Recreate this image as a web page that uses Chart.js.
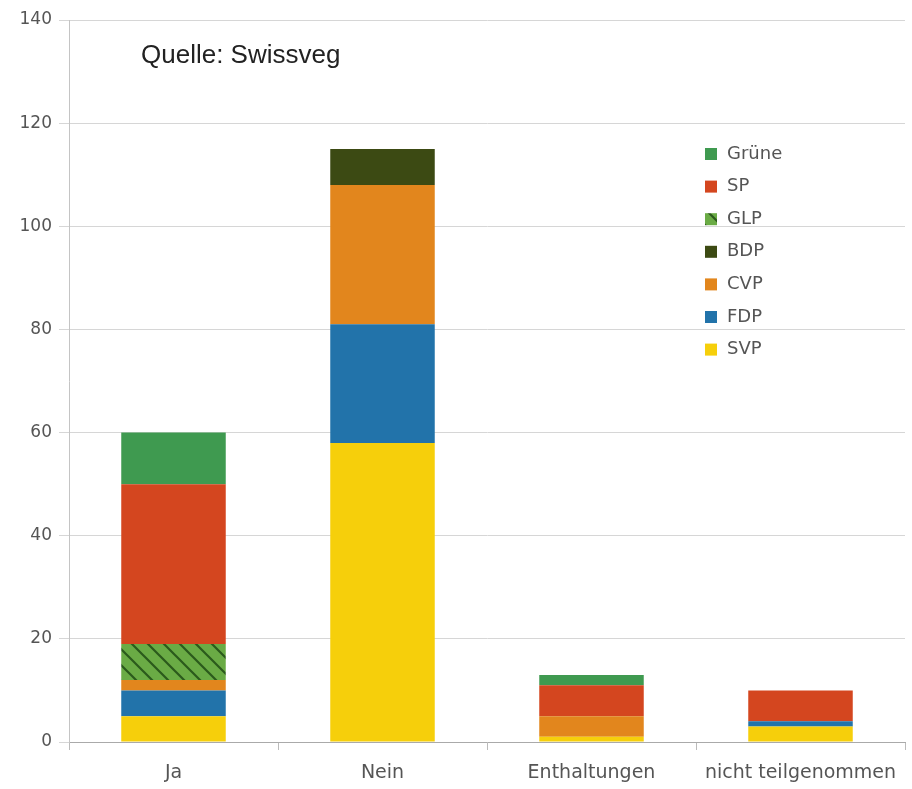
<!DOCTYPE html>
<html>
<head>
<meta charset="utf-8">
<script src="https://cdn.jsdelivr.net/npm/chart.js@4"></script>
<style>
  html, body { margin: 0; padding: 0; background: #fff; }
  #wrap { width: 912px; height: 789px; }
</style>
</head>
<body>
<div id="wrap"><canvas id="canvasVotes" width="912" height="789"></canvas></div>
<script>
// categories and votes per party
var categories = ["Ja", "Nein", "Enthaltungen", "nicht teilgenommen"];
var parties = ["SVP", "FDP", "CVP", "BDP", "GLP", "SP", "Grüne"];

var svp   = [5, 58, 1, 3];
var fdp   = [5, 23, 0, 1];
var cvp   = [2, 27, 4, 0];
var bdp   = [0, 7, 0, 0];
var glp   = [7, 0, 0, 0];
var sp    = [31, 0, 6, 6];
var gruene = [10, 0, 2, 0];

var yTicks = [0, 20, 40, 60, 80, 100, 120, 140];

var go = {};

//hatched fill for GLP
function makeHatch() {
    var c = document.createElement("canvas");
    c.width = 16;
    c.height = 16;
    var ctx = c.getContext("2d");
    ctx.fillStyle = "#6aab45";
    ctx.fillRect(0, 0, 16, 16);
    ctx.strokeStyle = "#2b5a1c";
    ctx.lineWidth = 2.2;
    ctx.beginPath();
    ctx.moveTo(-4, -4); ctx.lineTo(20, 20);
    ctx.moveTo(-4, 12); ctx.lineTo(4, 20);
    ctx.moveTo(12, -4); ctx.lineTo(20, 4);
    ctx.stroke();
    return c;
}

function main() {
    var canvas = document.getElementById("canvasVotes");
    var context = canvas.getContext("2d");
    var hatch = context.createPattern(makeHatch(), "repeat");

    var colors = ["#f6cf0b", "#2273aa", "#e2861d", "#3c4a13", hatch, "#d4461f", "#3f9a50"];
    var values = [svp, fdp, cvp, bdp, glp, sp, gruene];

    var datasets = [];
    for (var i = 0; i < parties.length; i++) {
        datasets.push({
            label: parties[i],
            data: values[i],
            backgroundColor: colors[i],
            borderWidth: 0,
            categoryPercentage: 1.0,
            barPercentage: 0.5
        });
    }

    //source text and legend inside plot
    var overlay = {
        id: "overlay",
        afterDraw: function (chart) {
            var ctx = chart.ctx;
            ctx.save();
            ctx.fillStyle = "#222";
            ctx.font = "26px 'Liberation Sans', Arial, sans-serif";
            ctx.textBaseline = "alphabetic";
            ctx.textAlign = "left";
            ctx.fillText("Quelle: Swissveg", 141, 63);

            ctx.font = "18px 'DejaVu Sans', sans-serif";
            ctx.textBaseline = "middle";
            var ds = chart.data.datasets;
            var y = 154;
            for (var k = ds.length - 1; k >= 0; k--) {
                ctx.fillStyle = ds[k].backgroundColor;
                ctx.fillRect(705, y - 6, 12, 12);
                ctx.fillStyle = "#555";
                ctx.fillText(ds[k].label, 727, y);
                y += 32.6;
            }
            ctx.restore();
        }
    };

    go.chart = new Chart(context, {
        type: "bar",
        data: { labels: categories, datasets: datasets },
        options: {
            responsive: false,
            animation: false,
            layout: { padding: { top: 20, right: 7, left: 0, bottom: 0 } },
            plugins: {
                legend: { display: false },
                tooltip: { enabled: false }
            },
            scales: {
                x: {
                    stacked: true,
                    grid: {
                        offset: true,
                        drawOnChartArea: false,
                        drawTicks: true,
                        tickLength: 8,
                        color: "#bbb"
                    },
                    border: { color: "#aaa", width: 1 },
                    ticks: {
                        color: "#555",
                        font: { family: "'DejaVu Sans', sans-serif", size: 19 },
                        padding: 12,
                        maxRotation: 0
                    },
                    afterFit: function (scale) { scale.height = 47; }
                },
                y: {
                    stacked: true,
                    min: 0,
                    max: 140,
                    afterBuildTicks: function (scale) {
                        scale.ticks = yTicks.map(function (v) { return { value: v }; });
                    },
                    grid: {
                        color: "#d6d6d6",
                        tickLength: 10,
                        drawTicks: true
                    },
                    border: { color: "#c4c4c4", width: 1 },
                    ticks: {
                        color: "#555",
                        font: { family: "'DejaVu Sans', sans-serif", size: 17 },
                        padding: 7
                    },
                    afterFit: function (scale) { scale.width = 69; }
                }
            }
        },
        plugins: [overlay]
    });
}

document.addEventListener("DOMContentLoaded", main);
</script>
</body>
</html>
